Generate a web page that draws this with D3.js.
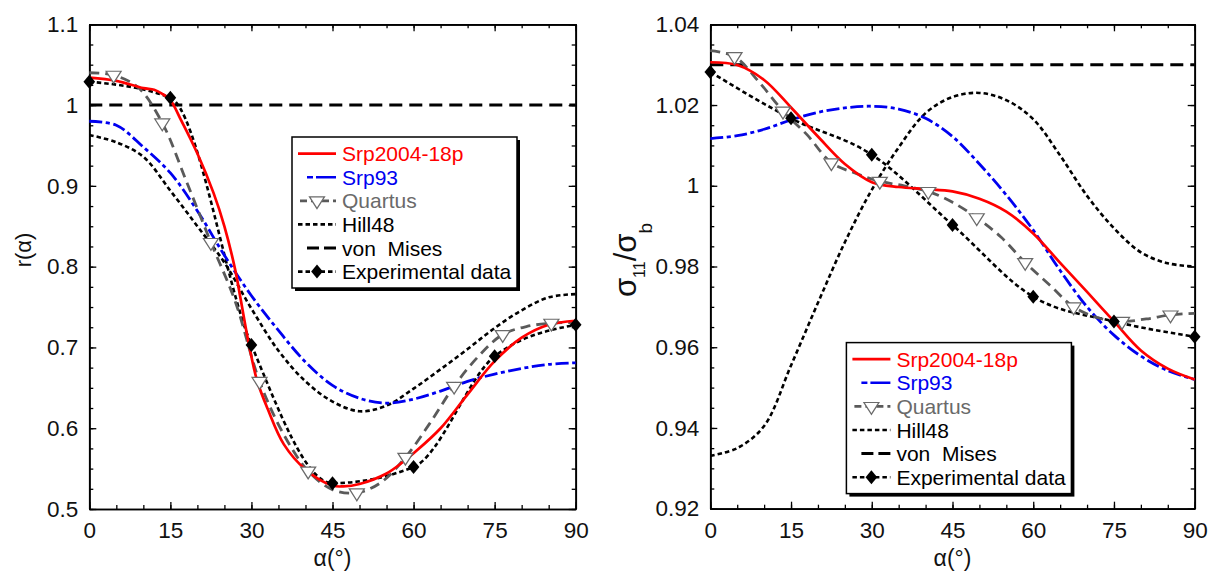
<!DOCTYPE html>
<html>
<head>
<meta charset="utf-8">
<script src="https://cdn.jsdelivr.net/npm/d3@7"></script>
<style>
body { margin: 0; background: #fff; }
text { font-family: "Liberation Sans", Arial, Helvetica, sans-serif; }
</style>
</head>
<body>
<script>
// angles (deg)
var angles5 = [0, 5, 10, 15, 20, 25, 30, 35, 40, 45, 50, 55, 60, 65, 70, 75, 80, 85, 90];
var angles45 = [0, 4.5, 9, 13.5, 18, 22.5, 27, 31.5, 36, 40.5, 45, 49.5, 54, 58.5, 63, 67.5, 72, 76.5, 81, 85.5, 90];
var expAngles = [0, 15, 30, 45, 60, 75, 90];
var flatAngles = [0, 90];

// left panel : r(alpha)
var leftRedAngles = [0, 5, 10, 12, 13.5, 15, 17, 20, 23, 25, 27, 28, 29.5, 31, 33, 36, 40, 45, 47, 50, 55, 58, 60, 65, 70, 75, 80, 85, 90];
var leftSrp2004 = [1.034, 1.030, 1.021, 1.019, 1.014, 1.006, 0.981, 0.940, 0.891, 0.850, 0.796, 0.760, 0.705, 0.660, 0.624, 0.580, 0.549, 0.529, 0.528, 0.531, 0.544, 0.558, 0.569, 0.600, 0.642, 0.683, 0.712, 0.728, 0.733];
var leftSrp93 = [0.980, 0.975, 0.948, 0.916, 0.869, 0.814, 0.764, 0.721, 0.682, 0.653, 0.637, 0.631, 0.636, 0.646, 0.658, 0.667, 0.674, 0.679, 0.681];
var leftHill48 = [0.963, 0.954, 0.936, 0.894, 0.850, 0.805, 0.748, 0.696, 0.658, 0.633, 0.621, 0.628, 0.649, 0.673, 0.698, 0.724, 0.746, 0.762, 0.766];
var leftQuartus = [1.040, 1.037, 1.022, 0.978, 0.905, 0.830, 0.757, 0.658, 0.592, 0.547, 0.524, 0.520, 0.533, 0.564, 0.606, 0.652, 0.689, 0.716, 0.726, 0.730, 0.731];
var leftExp = [1.029, 1.009, 0.703, 0.532, 0.552, 0.689, 0.728];
var leftVonMises = [1, 1];
var leftYTicks = [0.5, 0.6, 0.7, 0.8, 0.9, 1, 1.1];
var leftYLabels = ["0.5", "0.6", "0.7", "0.8", "0.9", "1", "1.1"];

// right panel : sigma11 / sigmab
var rightSrp2004 = [1.0306, 1.0299, 1.0262, 1.0194, 1.0122, 1.0054, 1.0009, 0.9997, 0.9992, 0.9986, 0.9968, 0.9936, 0.9882, 0.9809, 0.9737, 0.9664, 0.9592, 0.9547, 0.9520];
var rightSrp93 = [1.0117, 1.0124, 1.0140, 1.0163, 1.0182, 1.0193, 1.0197, 1.0190, 1.0167, 1.0122, 1.0054, 0.9977, 0.9890, 0.9790, 0.9700, 0.9630, 0.9578, 0.9542, 0.9520];
var rightHill48 = [0.9331, 0.9350, 0.9405, 0.9555, 0.9710, 0.9860, 0.9990, 1.0095, 1.0180, 1.0220, 1.0230, 1.0212, 1.0165, 1.0075, 0.9975, 0.9895, 0.9835, 0.9808, 0.9800];
var rightQuartus = [1.0335, 1.0320, 1.0258, 1.0185, 1.0126, 1.0057, 1.0031, 1.0011, 1.0000, 0.9986, 0.9959, 0.9921, 0.9873, 0.9810, 0.9755, 0.9700, 0.9673, 0.9664, 0.9670, 0.9680, 0.9684];
var rightExp = [1.0282, 1.0167, 1.0077, 0.9903, 0.9725, 0.9664, 0.9626];
var rightVonMises = [1.03, 1.03];
var rightYTicks = [0.92, 0.94, 0.96, 0.98, 1, 1.02, 1.04];
var rightYLabels = ["0.92", "0.94", "0.96", "0.98", "1", "1.02", "1.04"];

var xTicks = [0, 15, 30, 45, 60, 75, 90];
var legendNames = ["Srp2004-18p", "Srp93", "Quartus", "Hill48", "von  Mises", "Experimental data"];

var RED = "#ff0000", BLUE = "#0000f0", GREY = "#5a5a5a", GREYTXT = "#6a6a6a";

var width = 1214, height = 573;
var svg = d3.select("body").append("svg")
    .attr("width", width)
    .attr("height", height);

function zip(xs, ys) {
    return xs.map(function(a, i) { return [a, ys[i]]; });
}

function drawPanel(p) {
    var x = d3.scaleLinear().domain([0, 90]).range([p.left, p.right]);
    var y = d3.scaleLinear().domain([p.yTicks[0], p.yTicks[p.yTicks.length - 1]]).range([p.bottom, p.top]);
    var g = svg.append("g");

    var xMinor = d3.range(0, 19).map(function(i) { return i * 5; });
    var yMinor = d3.range(0, 25).map(function(i) { return p.yTicks[0] + i * p.minorStep; });

    // axes, ticks inward on all four sides
    g.append("g").attr("transform", "translate(0," + p.bottom + ")")
        .call(d3.axisBottom(x).tickValues(xMinor).tickSizeInner(-4).tickSizeOuter(0).tickFormat(""));
    g.append("g").attr("transform", "translate(0," + p.top + ")")
        .call(d3.axisTop(x).tickValues(xMinor).tickSizeInner(-4).tickSizeOuter(0).tickFormat(""));
    g.append("g").attr("transform", "translate(0," + p.top + ")")
        .call(d3.axisTop(x).tickValues(xTicks).tickSizeInner(-7).tickSizeOuter(0).tickFormat(""));
    g.append("g").attr("transform", "translate(" + p.left + ",0)")
        .call(d3.axisLeft(y).tickValues(yMinor).tickSizeInner(-4).tickSizeOuter(0).tickFormat(""));
    g.append("g").attr("transform", "translate(" + p.right + ",0)")
        .call(d3.axisRight(y).tickValues(yMinor).tickSizeInner(-4).tickSizeOuter(0).tickFormat(""));
    g.append("g").attr("transform", "translate(" + p.right + ",0)")
        .call(d3.axisRight(y).tickValues(p.yTicks).tickSizeInner(-7).tickSizeOuter(0).tickFormat(""));

    var xAxis = g.append("g").attr("transform", "translate(0," + p.bottom + ")")
        .call(d3.axisBottom(x).tickValues(xTicks).tickSizeInner(-7).tickSizeOuter(0).tickPadding(13));
    var yAxis = g.append("g").attr("transform", "translate(" + p.left + ",0)")
        .call(d3.axisLeft(y).tickValues(p.yTicks).tickSizeInner(-7).tickSizeOuter(0).tickPadding(11)
            .tickFormat(function(d, i) { return p.yLabels[i]; }));

    g.selectAll(".domain").attr("stroke", "#000").attr("stroke-width", 1.7);
    g.selectAll(".tick line").attr("stroke", "#000").attr("stroke-width", 1.3);
    xAxis.selectAll("text").attr("font-size", 22.5).attr("font-family", null).attr("fill", "#111");
    yAxis.selectAll("text").attr("font-size", 22.5).attr("font-family", null).attr("fill", "#111");

    var smooth = d3.line()
        .x(function(d) { return x(d[0]); })
        .y(function(d) { return y(d[1]); })
        .curve(d3.curveCatmullRom.alpha(0.5));
    var mono = d3.line()
        .x(function(d) { return x(d[0]); })
        .y(function(d) { return y(d[1]); })
        .curve(d3.curveMonotoneX);

    var curves = g.append("g").attr("fill", "none");
    curves.append("path").attr("d", smooth(zip(flatAngles, p.vonMises)))
        .attr("stroke", "#000").attr("stroke-width", 3).attr("stroke-dasharray", "13,7");
    curves.append("path").attr("d", smooth(zip(angles5, p.hill48)))
        .attr("stroke", "#000").attr("stroke-width", 2.6).attr("stroke-dasharray", "4.5,3");
    curves.append("path").attr("d", mono(zip(expAngles, p.exp)))
        .attr("stroke", "#000").attr("stroke-width", 2.6).attr("stroke-dasharray", "4.5,3");
    curves.append("path").attr("d", smooth(zip(angles5, p.srp93)))
        .attr("stroke", BLUE).attr("stroke-width", 2.8).attr("stroke-dasharray", "13,3.5,4,3.5");
    curves.append("path").attr("d", smooth(zip(angles45, p.quartus)))
        .attr("stroke", GREY).attr("stroke-width", 2.8).attr("stroke-dasharray", "10,6");
    curves.append("path").attr("d", smooth(zip(p.redAngles, p.srp2004)))
        .attr("stroke", RED).attr("stroke-width", 2.7);

    var tri = d3.symbol().type(d3.symbolTriangle).size(80);
    var dia = d3.symbol().type(d3.symbolSquare).size(84);

    g.append("g").selectAll("path")
        .data(zip(angles45, p.quartus).filter(function(d, i) { return i % 2 === 1; }))
        .enter().append("path")
        .attr("d", tri)
        .attr("transform", function(d) { return "translate(" + x(d[0]) + "," + y(d[1]) + ") scale(1.1,1) rotate(180)"; })
        .attr("fill", "#fff").attr("stroke", GREYTXT).attr("stroke-width", 1.2);

    g.append("g").selectAll("path")
        .data(zip(expAngles, p.exp))
        .enter().append("path")
        .attr("d", dia)
        .attr("transform", function(d) { return "translate(" + x(d[0]) + "," + y(d[1]) + ") scale(0.9,1.08) rotate(45)"; })
        .attr("fill", "#000");

    // axis titles
    g.append("text")
        .attr("x", (p.left + p.right) / 2).attr("y", 566)
        .attr("text-anchor", "middle").attr("font-size", 23).attr("fill", "#111")
        .text("α(°)");
    p.drawYLabel(g);

    // legend
    var lx = p.legend[0], ly = p.legend[1], lw = 225, lh = 151;
    var lg = g.append("g");
    lg.append("rect").attr("x", lx + 3).attr("y", ly + 3).attr("width", lw).attr("height", lh).attr("fill", "#000");
    lg.append("rect").attr("x", lx).attr("y", ly).attr("width", lw).attr("height", lh)
        .attr("fill", "#fff").attr("stroke", "#000").attr("stroke-width", 1.5);

    var colors = [RED, BLUE, GREYTXT, "#000", "#000", "#000"];
    legendNames.forEach(function(name, i) {
        var cy = ly + 16.6 + i * 23.6;
        var ln = lg.append("line").attr("y1", cy).attr("y2", cy).attr("x2", lx + 44).attr("fill", "none");
        if (i === 0) ln.attr("x1", lx + 6).attr("stroke", RED).attr("stroke-width", 2.7);
        if (i === 1) ln.attr("x1", lx + 15).attr("stroke", BLUE).attr("stroke-width", 2.6).attr("stroke-dasharray", "6,3,20,3");
        if (i === 2) ln.attr("x1", lx + 8).attr("stroke", GREY).attr("stroke-width", 2.8).attr("stroke-dasharray", "7,4");
        if (i === 3) ln.attr("x1", lx + 6).attr("stroke", "#000").attr("stroke-width", 2.6).attr("stroke-dasharray", "4.5,3");
        if (i === 4) ln.attr("x1", lx + 15).attr("stroke", "#000").attr("stroke-width", 3).attr("stroke-dasharray", "12,5");
        if (i === 5) ln.attr("x1", lx + 6).attr("stroke", "#000").attr("stroke-width", 2.6).attr("stroke-dasharray", "4.5,3");
        if (i === 2) {
            lg.append("path").attr("d", tri)
                .attr("transform", "translate(" + (lx + 25) + "," + cy + ") scale(1.1,1) rotate(180)")
                .attr("fill", "#fff").attr("stroke", GREYTXT).attr("stroke-width", 1.2);
        }
        if (i === 5) {
            lg.append("path").attr("d", dia)
                .attr("transform", "translate(" + (lx + 25) + "," + cy + ") scale(0.9,1.08) rotate(45)")
                .attr("fill", "#000");
        }
        lg.append("text")
            .attr("x", lx + 50).attr("y", cy + 7.5)
            .attr("font-size", 21).attr("fill", colors[i])
            .attr("xml:space", "preserve")
            .style("white-space", "pre")
            .text(name);
    });
}

drawPanel({
    left: 89.3, right: 575.7, top: 24.3, bottom: 509,
    yTicks: leftYTicks, yLabels: leftYLabels, minorStep: 0.025,
    redAngles: leftRedAngles, srp2004: leftSrp2004, srp93: leftSrp93,
    hill48: leftHill48, quartus: leftQuartus, exp: leftExp, vonMises: leftVonMises,
    legend: [292, 137],
    drawYLabel: function(g) {
        g.append("text")
            .attr("transform", "translate(31,250) rotate(-90)")
            .attr("text-anchor", "middle").attr("font-size", 22).attr("fill", "#111")
            .text("r(α)");
    }
});

drawPanel({
    left: 710.3, right: 1194.7, top: 24.3, bottom: 508.7,
    yTicks: rightYTicks, yLabels: rightYLabels, minorStep: 0.005,
    redAngles: angles5, srp2004: rightSrp2004, srp93: rightSrp93,
    hill48: rightHill48, quartus: rightQuartus, exp: rightExp, vonMises: rightVonMises,
    legend: [846.4, 342.6],
    drawYLabel: function(g) {
        var t = g.append("text")
            .attr("transform", "translate(636,260) rotate(-90)")
            .attr("text-anchor", "middle").attr("fill", "#111");
        t.append("tspan").attr("font-size", 31).text("σ");
        t.append("tspan").attr("font-size", 16).attr("dy", 9).text("11");
        t.append("tspan").attr("font-size", 31).attr("dy", -9).text("/");
        t.append("tspan").attr("font-size", 31).text("σ");
        t.append("tspan").attr("font-size", 19).attr("dy", 16).text("b");
    }
});
</script>
</body>
</html>
